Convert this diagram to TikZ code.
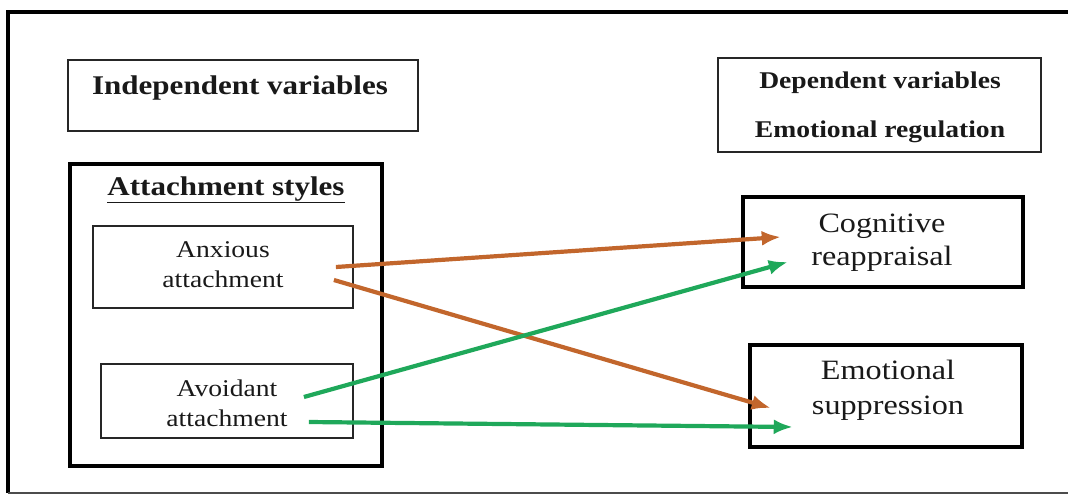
\documentclass[tikz,border=0pt]{standalone}
\usepackage{fontspec}
\setmainfont[FakeStretch=1.15]{Liberation Serif}
\usepackage{tikz}
\usetikzlibrary{positioning,calc,arrows.meta}
\definecolor{anxcol}{HTML}{C2662C}
\definecolor{avocol}{HTML}{1FA85A}
\tikzset{thinbox/.style={draw=black!85,line width=1.8pt,inner sep=0pt}}
\tikzset{thickbox/.style={draw=black,line width=4.5pt,inner sep=0pt}}
\tikzset{txt/.style={align=center,inner sep=0pt,text=black!90}}
\tikzset{link/.style={-{Latex[length=19pt,width=15pt]},line width=4.2pt}}

\begin{document}
\begin{tikzpicture}[x=1pt,y=-1pt]
  \useasboundingbox (0,0) rectangle (1068,496);
  % outer frame (open on the right)
  \draw[line width=4pt] (1068,12) -- (8,12) -- (8,493);
  \draw[line width=1.5pt,black!70] (8,493) -- (1068,493);

  % left side
  \node[thinbox,minimum width=350,minimum height=71] (indep) at (243,95.5) {};
  \node[txt,font=\bfseries\fontsize{27}{32}\selectfont] (indeplbl) at (240,88) {Independent variables};
  \node[thickbox,minimum width=312,minimum height=302] (attach) at (226,315) {};
  \node[txt,font=\bfseries\fontsize{27}{32}\selectfont] (attachlbl) at (226,190) {\underline{Attachment styles}};
  \node[thinbox,minimum width=260,minimum height=82] (anx) at (223,267) {};
  \node[txt,font=\fontsize{24}{30}\selectfont] (anxlbl) at (223,265) {Anxious\\attachment};
  \node[thinbox,minimum width=252,minimum height=74] (avo) at (227,401) {};
  \node[txt,font=\fontsize{24}{30}\selectfont] (avolbl) at (227,403) {Avoidant\\attachment};

  % right side
  \node[thinbox,minimum width=323,minimum height=94] (dep) at (879.5,105) {};
  \node[txt,font=\bfseries\fontsize{24}{29}\selectfont] (deplbl) at (880,107) {Dependent variables\\[20pt]Emotional regulation};
  \node[thickbox,minimum width=280,minimum height=90] (cog) at (883,242) {};
  \node[txt,font=\fontsize{28}{33}\selectfont] (coglbl) at (882,243) {Cognitive\\reappraisal};
  \node[thickbox,minimum width=272,minimum height=102] (supp) at (886,396) {};
  \node[txt,font=\fontsize{28}{35}\selectfont] (supplbl) at (888,390) {Emotional\\suppression};

  % arrow ends
  \coordinate (anxA) at ($(anx.east)+(-18,0)$);
  \coordinate (anxB) at ($(anx.east)+(-20,13)$);
  \coordinate (avoA) at ($(avo.east)+(-50,-4)$);
  \coordinate (avoB) at ($(avo.east)+(-45,21)$);
  \coordinate (cogA) at ($(cog.west)+(40,-5)$);
  \coordinate (cogB) at ($(cog.west)+(47,20)$);
  \coordinate (suppA) at ($(supp.west)+(23,12)$);
  \coordinate (suppB) at ($(supp.west)+(45,31)$);

  \draw[link,anxcol] (anxA) -- (cogA);
  \draw[link,anxcol] (anxB) -- (suppA);
  \draw[link,avocol] (avoA) -- (cogB);
  \draw[link,avocol] (avoB) -- (suppB);
\end{tikzpicture}
\end{document}
